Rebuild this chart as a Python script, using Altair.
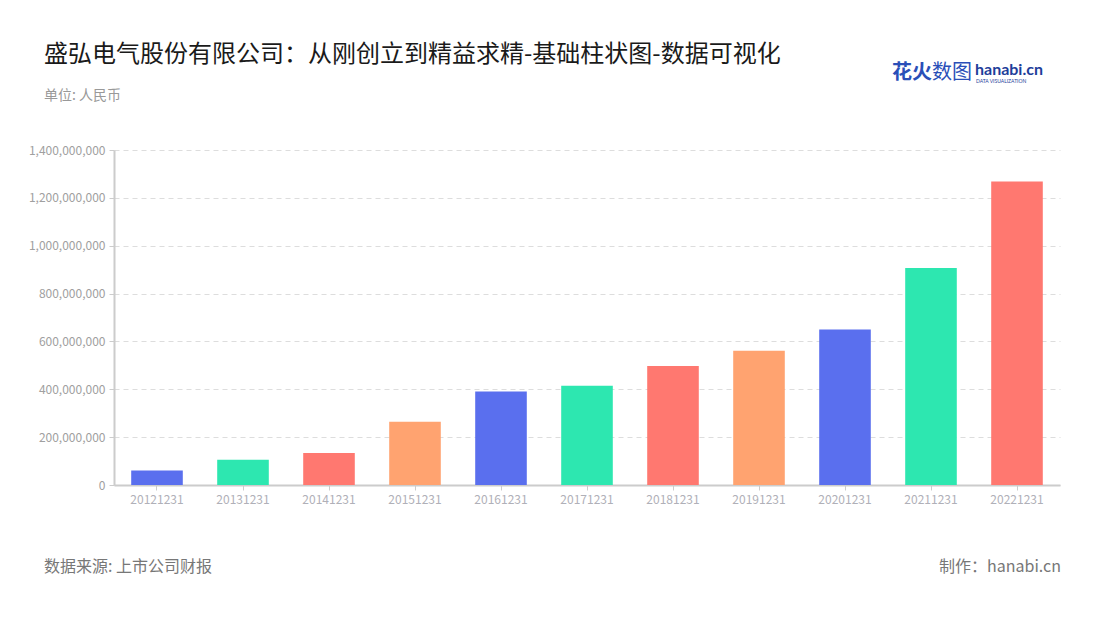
import altair as alt
import pandas as pd

dates = ["20121231", "20131231", "20141231", "20151231", "20161231", "20171231",
         "20181231", "20191231", "20201231", "20211231", "20221231"]
values = [61000000, 106000000, 134000000, 264000000, 391000000, 415000000,
          497000000, 561000000, 650000000, 907000000, 1268000000]
color_groups = ["a", "b", "c", "d", "a", "b", "c", "d", "a", "b", "c"]
palette = ["#5A6FEE", "#2DE7B0", "#FF7870", "#FFA370"]

title_text = "盛弘电气股份有限公司：从刚创立到精益求精-基础柱状图-数据可视化"
unit_text = "单位: 人民币"
source_text = "数据来源: 上市公司财报"
maker_text = "制作：hanabi.cn"

FONT = "Noto Sans CJK SC"

df = pd.DataFrame({"date": dates, "value": values, "grp": color_groups})

bars = alt.Chart(df).mark_bar().encode(
    x=alt.X("date:N", sort=dates,
            scale=alt.Scale(paddingInner=0.4, paddingOuter=0.2),
            axis=alt.Axis(title=None, labelAngle=0, labelColor="#b0b0b8", labelFontSize=12,
                          labelFont=FONT, domainColor="#cccccc", domainWidth=2,
                          tickColor="#cccccc", tickSize=5, labelPadding=4, grid=False)),
    y=alt.Y("value:Q", scale=alt.Scale(domain=[0, 1400000000], nice=False),
            axis=alt.Axis(title=None, format=",.0f", values=[i * 200000000 for i in range(8)],
                          labelColor="#a0a0a0", labelFontSize=12, labelFont=FONT,
                          domainColor="#cccccc", domainWidth=2, tickColor="#cccccc", tickSize=5,
                          gridColor="#dddddd", gridDash=[5, 4], labelPadding=4)),
    color=alt.Color("grp:N", scale=alt.Scale(domain=["a", "b", "c", "d"], range=palette), legend=None),
)

def label(text, x, y, size, color, align="left", weight="normal", font=FONT):
    return alt.Chart(pd.DataFrame({"t": [text]})).mark_text(
        align=align, baseline="middle", fontSize=size, color=color, fontWeight=weight, font=font
    ).encode(text="t:N", x=alt.value(x), y=alt.value(y))

ox, oy = 114, 150
texts = [
    label(title_text, 44 - ox, 55 - oy, 24, "#1a1a1a"),
    label(unit_text, 44 - ox, 96 - oy, 14, "#999999"),
    label(source_text, 44 - ox, 567 - oy, 16, "#777777"),
    label(maker_text, 1061 - ox, 567 - oy, 16, "#777777", align="right"),
    label("花火", 892 - ox, 73 - oy, 20, "#2A4FB8", weight="bold"),
    label("数图", 932 - ox, 73 - oy, 20, "#2A4FB8"),
    label("hanabi.cn", 975 - ox, 70 - oy, 16, "#1E3E9A", weight="bold", font="Lato"),
    label("DATA VISUALIZATION", 976 - ox, 81 - oy, 5, "#1E3E9A", font="Lato"),
]

chart = alt.layer(bars, *texts).properties(
    width=946, height=335,
    autosize=alt.AutoSizeParams(type="none"),
    padding={"left": ox, "top": oy, "right": 40, "bottom": 135},
    background="white",
).configure_view(stroke=None)

chart.save("out.html", embed_options={"renderer": "svg", "actions": False})
